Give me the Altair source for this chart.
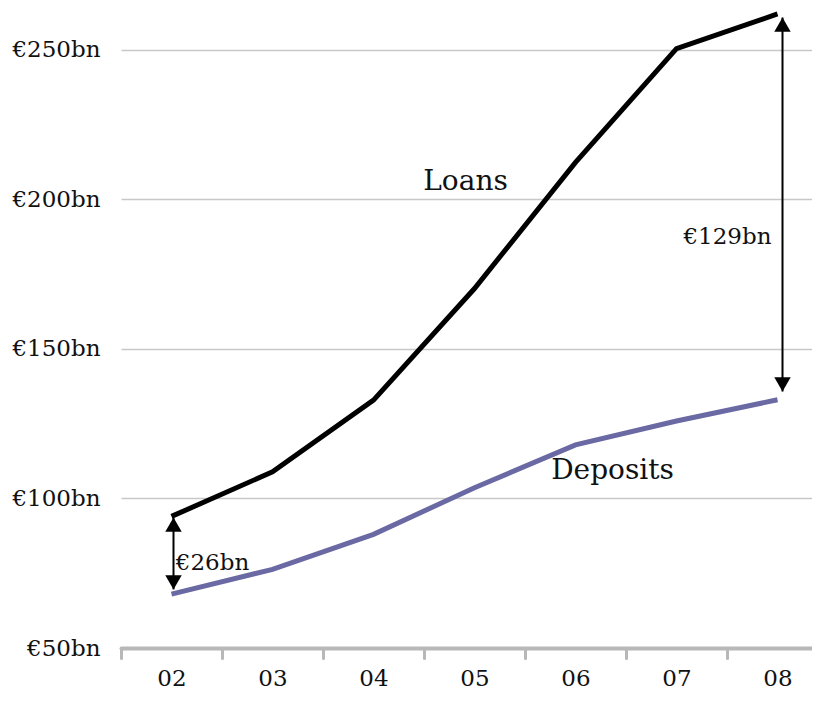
import altair as alt
import pandas as pd

FONT = "DejaVu Serif"
TEXT_COLOR = "#111111"

# ---- data ----
years = ["02", "03", "04", "05", "06", "07", "08"]
loans = [94, 108.9, 132.9, 170.2, 212.4, 250.4, 262]
deposits = [68, 76.3, 88, 103.6, 117.9, 125.9, 133]
series_names = ["Loans", "Deposits"]
series_colors = ["#000000", "#6a69a3"]
y_ticks = [50, 100, 150, 200, 250]

# gap arrows (year, top value, bottom value)
arrow_years = ["02", "08"]
arrow_top = [93.6, 260.8]
arrow_bottom = [69.6, 135.8]

# annotation labels
note_texts = ["Loans", "Deposits", "€129bn", "€26bn"]
note_years = ["05", "06", "08", "02"]
note_values = [205.8, 109.3, 187.5, 78.3]

df = pd.DataFrame({
    "year": years * 2,
    "value": loans + deposits,
    "series": [series_names[0]] * len(years) + [series_names[1]] * len(years),
})

x_enc = alt.X(
    "year:N",
    scale=alt.Scale(domain=years, paddingInner=0, paddingOuter=0),
    axis=alt.Axis(
        title=None, labelAngle=0, tickBand="extent",
        labelFont=FONT, labelFontSize=23, labelColor=TEXT_COLOR,
        labelPadding=9, tickSize=10, tickWidth=3, tickColor="#b8b8b8",
        tickCap="round", domainColor="#b8b8b8", domainWidth=4, domainCap="round",
        grid=False,
    ),
)
y_scale = alt.Scale(domain=[50, 264], nice=False, zero=False)
y_enc = alt.Y(
    "value:Q",
    scale=y_scale,
    axis=alt.Axis(
        title=None, values=y_ticks, labelExpr="'€' + datum.value + 'bn'",
        labelFont=FONT, labelFontSize=23, labelColor=TEXT_COLOR,
        labelPadding=21, ticks=False, domain=False,
        grid=True, gridColor="#c8c8c8", gridWidth=1.5,
    ),
)

lines = alt.Chart(df).mark_line(strokeWidth=5).encode(
    x=x_enc,
    y=y_enc,
    color=alt.Color("series:N", scale=alt.Scale(domain=series_names, range=series_colors), legend=None),
    detail="series:N",
)

layers = [lines]

# arrows
arrow_offsets = [2, 5]
for yr, top, bot, off in zip(arrow_years, arrow_top, arrow_bottom, arrow_offsets):
    adf = pd.DataFrame({"year": [yr], "top": [top], "bottom": [bot]})
    base = alt.Chart(adf)
    layers.append(
        base.mark_rule(color="#000000", strokeWidth=2, xOffset=off).encode(
            x=alt.X("year:N"), y=alt.Y("top:Q", scale=y_scale), y2="bottom:Q"
        )
    )
    layers.append(
        base.mark_point(shape="triangle-up", filled=True, size=270, color="#000000",
                        opacity=1, xOffset=off, yOffset=7).encode(
            x=alt.X("year:N"), y=alt.Y("top:Q", scale=y_scale)
        )
    )
    layers.append(
        base.mark_point(shape="triangle-down", filled=True, size=270, color="#000000",
                        opacity=1, xOffset=off, yOffset=-7).encode(
            x=alt.X("year:N"), y=alt.Y("bottom:Q", scale=y_scale)
        )
    )

# annotation texts
note_dx = [-9, 37, -50, 41]
note_sizes = [28, 28, 23, 23]
for txt, yr, val, dx, fs in zip(note_texts, note_years, note_values, note_dx, note_sizes):
    tdf = pd.DataFrame({"year": [yr], "value": [val], "label": [txt]})
    layers.append(
        alt.Chart(tdf).mark_text(font=FONT, fontSize=fs, color=TEXT_COLOR, dx=dx,
                                 align="center", baseline="middle").encode(
            x=alt.X("year:N"), y=alt.Y("value:Q", scale=y_scale), text="label:N"
        )
    )

chart = alt.layer(*layers).properties(
    width=707,
    height=640,
    autosize=alt.AutoSizeParams(type="none"),
    padding={"left": 113, "top": 0, "right": -16, "bottom": 44},
    background="white",
).configure_view(stroke=None)

chart.save("out.html", embed_options={"renderer": "svg", "actions": False})
